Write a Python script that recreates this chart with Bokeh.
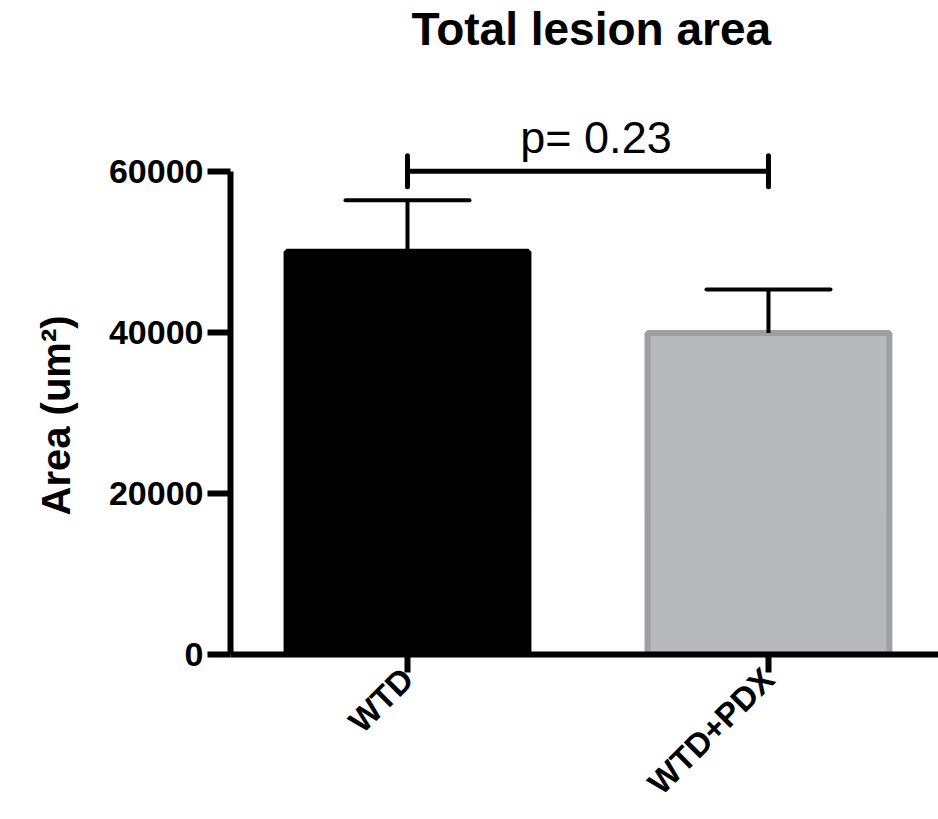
import math
from bokeh.plotting import figure
from bokeh.models import Range1d, FixedTicker, Title
from bokeh.core.properties import value
from bokeh.embed import file_html
from bokeh.resources import INLINE

# ---- data ----
categories = ["WTD", "WTD+PDX"]
positions = [1, 2]
means = [50000, 39900]
err_upper = [56400, 45300]
fill_colors = ["#000000", "#b8b9bd"]
line_colors = ["#000000", "#9e9ea3"]
y_ticks = [0, 20000, 40000, 60000]
p_label = "p= 0.23"
bracket_y = 60000
title_text = "Total lesion area"
y_label = "Area (um\u00b2)"

FONT = "Liberation Sans"

p = figure(width=938, height=819, output_backend="svg", toolbar_location=None,
           x_range=Range1d(0.5097, 2.471), y_range=Range1d(0, 74480),
           min_border_left=230, min_border_right=0, min_border_bottom=165,
           min_border_top=0, title=title_text)

p.title.text_font = FONT
p.title.text_font_size = "46px"
p.title.text_font_style = "bold"
p.title.text_color = "black"
p.title.align = "left"
p.title.offset = 181
p.title.standoff = 0

p.outline_line_color = None
p.xgrid.visible = False
p.ygrid.visible = False
p.background_fill_color = "white"
p.border_fill_color = "white"

# bars
p.vbar(x=positions, top=means, bottom=0, width=0.67,
       fill_color=fill_colors, line_color=line_colors, line_width=6)

# error bars (upper only)
p.segment(x0=positions, y0=means, x1=positions, y1=err_upper,
          line_color="black", line_width=4)
p.scatter(x=positions, y=err_upper, marker="dash", size=124,
          line_color="black", line_width=4, line_cap="round")

# significance bracket
p.segment(x0=[positions[0]], y0=[bracket_y], x1=[positions[1]], y1=[bracket_y],
          line_color="black", line_width=5)
p.scatter(x=positions, y=[bracket_y, bracket_y], marker="dash", angle=math.pi / 2,
          size=31, line_color="black", line_width=5, line_cap="round")
p.text(x=[(positions[0] + positions[1]) / 2], y=[bracket_y], text=[p_label],
       text_font=value(FONT), text_font_size="45px", text_color="black",
       text_align="center", text_baseline="bottom", x_offset=8, y_offset=-8)

# axes
for ax in (p.xaxis, p.yaxis):
    ax.axis_line_width = 6
    ax.axis_line_color = "black"
    ax.major_tick_line_width = 6
    ax.major_tick_line_color = "black"
    ax.major_tick_in = 0
    ax.minor_tick_line_color = None
    ax.major_label_text_font = FONT
    ax.major_label_text_font_style = "bold"
    ax.major_label_text_color = "black"

p.yaxis.ticker = FixedTicker(ticks=y_ticks)
p.yaxis.bounds = (0, 60000)
p.yaxis.major_tick_out = 23
p.yaxis.major_label_standoff = 4
p.yaxis.major_label_text_font_size = "34px"

p.xaxis.ticker = FixedTicker(ticks=positions)
p.xaxis.major_label_overrides = {pos: lab for pos, lab in zip(positions, categories)}
p.xaxis.major_tick_out = 18
p.xaxis.major_label_orientation = math.pi / 4
p.xaxis.major_label_standoff = 1
p.xaxis.major_label_text_font_size = "33px"

ylab = Title(text=y_label, align="left", offset=139,
             text_font=FONT, text_font_size="40px", text_font_style="bold",
             text_color="black")
ylab.standoff = 56
p.add_layout(ylab, "left")

open("out.html", "w").write(file_html(p, INLINE))
